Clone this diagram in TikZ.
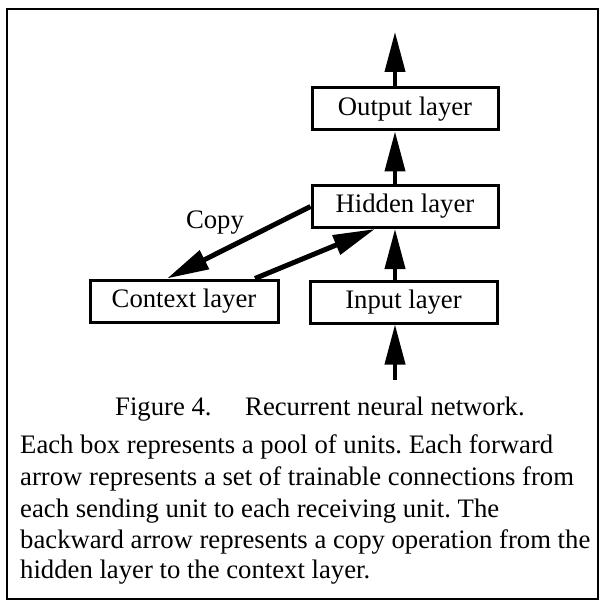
\documentclass[tikz,border=0pt]{standalone}
\usepackage{fontspec}
\setmainfont{Liberation Serif}
\usetikzlibrary{arrows.meta}
\begin{document}
\frenchspacing
\begin{tikzpicture}[x=1pt,y=-1pt,
  every node/.style={font=\fontsize{26.7}{31}\selectfont, inner sep=0pt},
  layer/.style={draw, line width=3pt, minimum width=186pt, minimum height=42pt},
  fwd/.style={line width=4pt, -{Triangle[length=40pt,width=20pt]}},
  diag/.style={line width=5pt, -{Triangle[length=42pt,width=20pt]}},
  txt/.style={anchor=base west}]
\useasboundingbox (0,0) rectangle (601,601);
% outer frame
\draw[line width=2.5pt] (7,9) rectangle (598,599);

% layers
\node[layer] (out) at (405,109) {Output layer};
\node[layer] (hid) at (405,206.5) {Hidden layer};
\node[layer, minimum width=188pt] (ctx) at (184,301) {Context layer};
\node[layer, minimum width=187pt] (inp) at (403.5,302) {Input layer};

% vertical axis of the forward arrows
\coordinate (ax) at (395,0);
\coordinate (topend) at (395,32);
\coordinate (botend) at (395,380);

\draw[fwd] (out.north -| ax) -- (topend);
\draw[fwd] (hid.north -| ax) -- (out.south -| ax);
\draw[fwd] (inp.north -| ax) -- (hid.south -| ax);
\draw[fwd] (botend) -- (inp.south -| ax);

% recurrent loop
\coordinate (cpyend) at (167,0);
\coordinate (ctxout) at (255,0);
\coordinate (hidin) at (375,0);
\draw[diag] (hid.west) -- (ctx.north -| cpyend);
\draw[diag] (ctx.north -| ctxout) -- (hid.south -| hidin);
\node (copy) at (215,223) {Copy};

% caption
\node[txt] (fig) at (115,415) {Figure 4.};
\node[txt] (title) at (245,415) {Recurrent neural network.};
\node[txt] (l1) at (20,453) {Each box represents a pool of units. Each forward};
\node[txt] (l2) at (20,485) {arrow represents a set of trainable connections from};
\node[txt] (l3) at (20,517) {each sending unit to each receiving unit. The};
\node[txt] (l4) at (20,548) {backward arrow represents a copy operation from the};
\node[txt] (l5) at (20,578) {hidden layer to the context layer.};
\end{tikzpicture}
\end{document}
